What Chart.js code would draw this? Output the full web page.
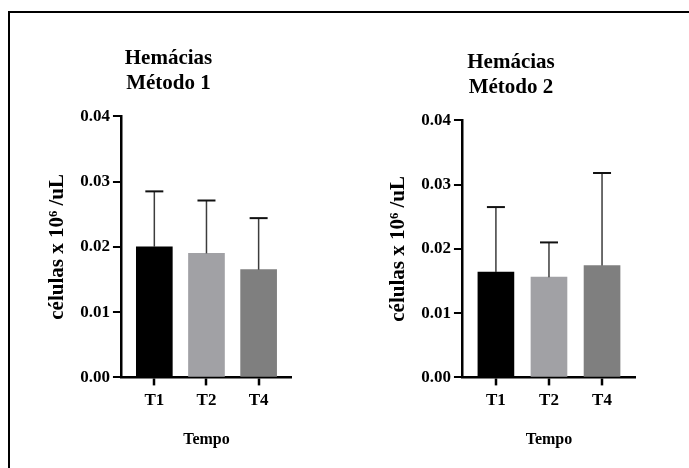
<!DOCTYPE html>
<html>
<head>
<meta charset="utf-8">
<script src="https://cdn.jsdelivr.net/npm/chart.js@4.4.0/dist/chart.umd.min.js"></script>
<style>
  body { margin: 0; background: #fff; width: 689px; height: 468px; overflow: hidden; position: relative; }
  #frame { position: absolute; left: 8px; top: 11px; width: 720px; height: 520px; border-top: 2px solid #000; border-left: 2px solid #000; }
  .box { position: absolute; }
</style>
</head>
<body>
<div id="frame"></div>
<div class="box" style="left:45px; top:38px; width:247px; height:411px;"><canvas id="chart1"></canvas></div>
<div class="box" style="left:386px; top:42px; width:250px; height:407px;"><canvas id="chart2"></canvas></div>
<script>
const tempos = ['T1', 'T2', 'T4'];
const coresBarras = ['#000000', '#a1a1a5', '#7f7f7f'];
const yTicks = [0, 0.01, 0.02, 0.03, 0.04];

// média e erro (só a parte de cima é desenhada)
const metodo1Media = [0.0200, 0.0190, 0.0165];
const metodo1Erro = [0.0085, 0.0081, 0.0079];
const metodo2Media = [0.0164, 0.0156, 0.0174];
const metodo2Erro = [0.0101, 0.0054, 0.0144];

const FONT = "'Liberation Serif', 'Times New Roman', serif";

const errorBars = {
    id: 'errorBars',
    afterDatasetsDraw: (chart) => {
        const { ctx, scales: { y } } = chart;
        const ds = chart.data.datasets[0];
        const meta = chart.getDatasetMeta(0);
        ctx.save();
        meta.data.forEach((bar, i) => {
            const top = y.getPixelForValue(ds.data[i].y + ds.erro[i]);
            ctx.strokeStyle = '#3c3c3c';
            ctx.lineWidth = 1.5;
            ctx.beginPath();
            ctx.moveTo(bar.x, bar.y);
            ctx.lineTo(bar.x, top);
            ctx.stroke();
            ctx.strokeStyle = '#111';
            ctx.lineWidth = 2;
            ctx.beginPath();
            ctx.moveTo(bar.x - 9, top);
            ctx.lineTo(bar.x + 9, top);
            ctx.stroke();
        });
        ctx.restore();
    }
};

const makeChart = (id, metodo, media, erro) => {
    const ctx = document.getElementById(id).getContext('2d');
    return new Chart(ctx, {
        type: 'bar',
        data: {
            datasets: [{
                data: tempos.map((t, i) => ({ x: i + 1, y: media[i] })),
                erro: erro,
                backgroundColor: coresBarras,
                borderWidth: 0,
                barThickness: 36
            }]
        },
        options: {
            responsive: true,
            maintainAspectRatio: false,
            animation: false,
            layout: { padding: 0 },
            plugins: {
                legend: { display: false },
                tooltip: { enabled: false },
                title: {
                    display: true,
                    text: ['Hemácias', metodo],
                    color: '#000',
                    font: { family: FONT, size: 21, weight: 'bold', lineHeight: 1.15 },
                    padding: { top: 9, bottom: 21 }
                }
            },
            scales: {
                x: {
                    type: 'linear',
                    offset: false,
                    min: 0.36,
                    max: 3.64,
                    afterBuildTicks: (s) => { s.ticks = tempos.map((t, i) => ({ value: i + 1 })); },
                    ticks: {
                        callback: (v) => tempos[v - 1] || '',
                        color: '#000',
                        font: { family: FONT, size: 17, weight: 'bold' },
                        padding: 5,
                        maxRotation: 0
                    },
                    grid: {
                        offset: false, drawOnChartArea: false, drawTicks: true, tickLength: 8,
                        color: '#000', lineWidth: 2, tickColor: '#000', tickWidth: 2.5
                    },
                    border: { color: '#000', width: 2.5 },
                    title: {
                        display: true,
                        text: 'Tempo',
                        color: '#000',
                        font: { family: FONT, size: 16, weight: 'bold' },
                        padding: { top: 14, bottom: 0 }
                    }
                },
                y: {
                    min: 0,
                    max: 0.04,
                    afterBuildTicks: (s) => { s.ticks = yTicks.map((v) => ({ value: v })); },
                    ticks: {
                        callback: (v) => v.toFixed(2),
                        color: '#000',
                        font: { family: FONT, size: 17, weight: 'bold' },
                        padding: 3
                    },
                    grid: { drawOnChartArea: false, drawTicks: true, tickLength: 8, color: '#000', lineWidth: 2 },
                    border: { color: '#000', width: 2.5 },
                    title: {
                        display: true,
                        text: 'células x 10⁶ /uL',
                        color: '#000',
                        font: { family: FONT, size: 21, weight: 'bold' },
                        padding: { top: 0, bottom: 7 }
                    }
                }
            }
        },
        plugins: [errorBars]
    });
};

makeChart('chart1', 'Método 1', metodo1Media, metodo1Erro);
makeChart('chart2', 'Método 2', metodo2Media, metodo2Erro);
</script>
</body>
</html>
